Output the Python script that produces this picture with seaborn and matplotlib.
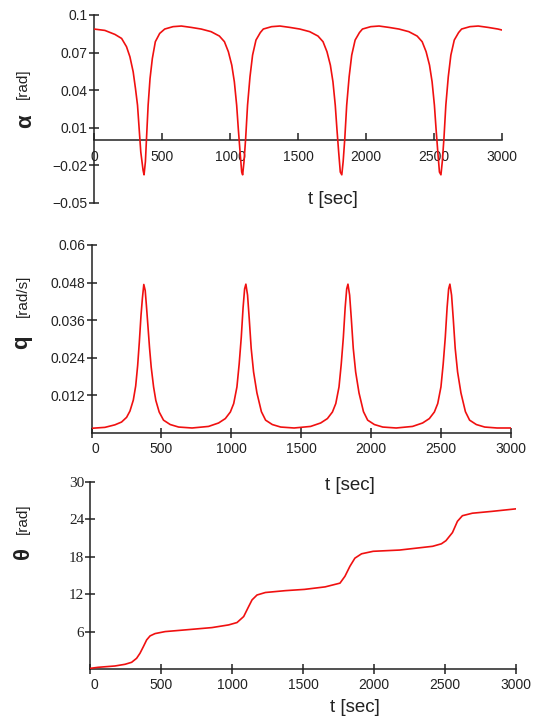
import matplotlib
matplotlib.use("Agg")
import matplotlib.pyplot as plt
import seaborn as sns

# alpha [rad] vs t [sec]
alpha_t = [0, 80, 154, 203, 239, 264, 288, 305, 320, 332, 344, 361, 368, 378, 386, 398, 412, 429, 451, 483,
           520, 581, 642, 715, 788, 861, 922, 959, 988, 1013, 1032, 1049, 1061, 1074, 1086, 1093, 1103, 1115, 1129, 1147,
           1166, 1191, 1223, 1245, 1306, 1367, 1440, 1513, 1586, 1647, 1684, 1713, 1738, 1757, 1774, 1786, 1799, 1811, 1822, 1832,
           1844, 1858, 1876, 1895, 1920, 1952, 1974, 2035, 2096, 2169, 2242, 2315, 2376, 2413, 2442, 2467, 2486, 2503, 2515, 2528,
           2540, 2551, 2561, 2573, 2587, 2605, 2624, 2649, 2681, 2703, 2764, 2825, 2898, 2970, 3000]
alpha = [0.0888, 0.0877, 0.0845, 0.0813, 0.0747, 0.0667, 0.0547, 0.0413, 0.0280, 0.0093, -0.0093, -0.0240, -0.0275, -0.0170, 0.0013, 0.0280, 0.0493, 0.0653, 0.0787, 0.0853,
         0.0888, 0.0907, 0.0912, 0.0901, 0.0888, 0.0867, 0.0832, 0.0787, 0.0707, 0.0600, 0.0467, 0.0280, 0.0093, -0.0093, -0.0253, -0.0275, -0.0170, 0.0013, 0.0280, 0.0507,
         0.0680, 0.0800, 0.0860, 0.0888, 0.0907, 0.0912, 0.0901, 0.0888, 0.0867, 0.0832, 0.0787, 0.0707, 0.0600, 0.0467, 0.0280, 0.0093, -0.0093, -0.0253, -0.0275, -0.0170,
         0.0013, 0.0280, 0.0507, 0.0680, 0.0800, 0.0860, 0.0888, 0.0907, 0.0912, 0.0901, 0.0888, 0.0867, 0.0832, 0.0787, 0.0707, 0.0600, 0.0467, 0.0280, 0.0093, -0.0093,
         -0.0253, -0.0275, -0.0170, 0.0013, 0.0280, 0.0507, 0.0680, 0.0800, 0.0860, 0.0888, 0.0907, 0.0912, 0.0901, 0.0888, 0.0880]

# q [rad/s] vs t [sec]
q_t = [0, 96, 167, 215, 251, 275, 299, 316, 330, 342, 354, 364, 374, 384, 393, 403, 415, 427, 444, 460,
       484, 515, 563, 623, 719, 837, 909, 957, 993, 1017, 1040, 1056, 1071, 1084, 1095, 1104, 1116, 1128, 1142, 1159,
       1183, 1215, 1245, 1293, 1353, 1449, 1567, 1639, 1687, 1723, 1747, 1770, 1786, 1801, 1814, 1825, 1834, 1846, 1858, 1872,
       1889, 1913, 1945, 1975, 2023, 2083, 2179, 2296, 2368, 2416, 2452, 2476, 2499, 2515, 2530, 2543, 2554, 2563, 2575, 2587,
       2601, 2618, 2642, 2674, 2704, 2752, 2812, 2900, 3000]
q = [0.0015, 0.0018, 0.0026, 0.0035, 0.0050, 0.0070, 0.0105, 0.0150, 0.0215, 0.0290, 0.0375, 0.0430, 0.0474, 0.0455, 0.0405, 0.0345, 0.0272, 0.0210, 0.0147, 0.0104,
     0.0067, 0.0041, 0.0027, 0.0019, 0.0016, 0.0021, 0.0032, 0.0046, 0.0067, 0.0094, 0.0147, 0.0220, 0.0305, 0.0400, 0.0460, 0.0475, 0.0440, 0.0365, 0.0270, 0.0195,
     0.0128, 0.0068, 0.0041, 0.0027, 0.0019, 0.0016, 0.0021, 0.0032, 0.0046, 0.0067, 0.0094, 0.0147, 0.0220, 0.0305, 0.0400, 0.0460, 0.0475, 0.0440, 0.0365, 0.0270,
     0.0195, 0.0128, 0.0068, 0.0041, 0.0027, 0.0019, 0.0016, 0.0021, 0.0032, 0.0046, 0.0067, 0.0094, 0.0147, 0.0220, 0.0305, 0.0400, 0.0460, 0.0475, 0.0440, 0.0365,
     0.0270, 0.0195, 0.0128, 0.0068, 0.0041, 0.0027, 0.0019, 0.0016, 0.0016]

# theta [rad] vs t [sec]
theta_t = [0, 54, 172, 243, 290, 325, 349, 373, 396, 420, 455, 526, 667, 856, 974, 1033, 1080, 1115, 1139, 1174,
           1233, 1375, 1509, 1654, 1759, 1794, 1829, 1864, 1911, 1993, 2179, 2412, 2474, 2506, 2552, 2587, 2622, 2692, 2832, 3000]
theta = [0.16, 0.32, 0.53, 0.80, 1.12, 1.76, 2.57, 3.64, 4.71, 5.35, 5.72, 6.04, 6.31, 6.68, 7.11, 7.49, 8.45, 10.05, 11.12, 11.9,
         12.3, 12.6, 12.8, 13.2, 13.8, 14.9, 16.5, 17.8, 18.5, 18.9, 19.1, 19.7, 20.1, 20.6, 21.9, 23.7, 24.6, 25.0, 25.3, 25.7]

alpha_ticks = [-0.05, -0.02, 0.01, 0.04, 0.07, 0.1]
alpha_labels = ["\u22120.05", "\u22120.02", "0.01", "0.04", "0.07", "0.1"]
q_ticks = [0.012, 0.024, 0.036, 0.048, 0.06]
q_labels = ["0.012", "0.024", "0.036", "0.048", "0.06"]
theta_ticks = [6, 12, 18, 24, 30]
theta_labels = ["6", "12", "18", "24", "30"]
t_ticks = [0, 500, 1000, 1500, 2000, 2500, 3000]
t_labels = ["0", "500", "1000", "1500", "2000", "2500", "3000"]

sns.set_style("white")
plt.rcParams['font.family'] = ['Liberation Sans', 'DejaVu Sans']

W, H = 538, 723
fig = plt.figure(figsize=(W / 100, H / 100), dpi=100)

def box(x0, x1, y0, y1):
    return [x0 / W, 1 - y1 / H, (x1 - x0) / W, (y1 - y0) / H]

ax1 = fig.add_axes(box(94, 502, 15, 203))
ax2 = fig.add_axes(box(91.5, 511, 245, 433))
ax3 = fig.add_axes(box(90.5, 516, 482, 669.3))

red = "#f01010"
sns.lineplot(x=alpha_t, y=alpha, ax=ax1, color=red, linewidth=1.2, zorder=3)
sns.lineplot(x=q_t, y=q, ax=ax2, color=red, linewidth=1.2, zorder=3)
sns.lineplot(x=theta_t, y=theta, ax=ax3, color=red, linewidth=1.2, zorder=3)

ax1.set_ylim(-0.05, 0.1)
ax2.set_ylim(0, 0.06)
ax3.set_ylim(0, 30)

for ax, yt, yl in [(ax1, alpha_ticks, alpha_labels), (ax2, q_ticks, q_labels), (ax3, theta_ticks, theta_labels)]:
    ax.set_xlim(0, 3000)
    ax.set_xticks(t_ticks)
    ax.set_xticklabels(t_labels)
    ax.set_yticks(yt)
    ax.set_yticklabels(yl)
    ax.set_xlabel("")
    ax.set_ylabel("")
    ax.spines['top'].set_visible(False)
    ax.spines['right'].set_visible(False)
    for s in ['left', 'bottom']:
        ax.spines[s].set_color("#222222")
        ax.spines[s].set_linewidth(1.1)
    ax.tick_params(axis='y', direction='inout', length=7, width=1.1, color="#222222",
                   labelsize=10, pad=1, left=True, labelcolor="#222222")
    ax.tick_params(axis='x', direction='inout', length=7, width=1.1, color="#222222",
                   labelsize=10, pad=3, bottom=True, labelcolor="#222222")
    ax.get_xticklabels()[0].set_horizontalalignment('left')
    ax.set_facecolor('white')

# alpha panel: x axis runs along zero
ax1.spines['bottom'].set_position(('data', 0))
ax1.tick_params(axis='x', direction='in', length=5, pad=7)

for lab in ax3.get_yticklabels():
    lab.set_family(['Liberation Serif', 'DejaVu Serif'])
    lab.set_fontsize(11)

# y labels: bold symbol plus unit
sym_kw = dict(rotation=90, ha='center', va='center', fontsize=16, fontweight='bold', color="#222222")
unit_kw = dict(rotation=90, ha='center', va='center', fontsize=11, color="#222222")
fig.text(26 / W, 1 - 121 / H, "\u03b1", **sym_kw)
fig.text(23 / W, 1 - 84 / H, "[rad]", **unit_kw)
fig.text(22 / W, 1 - 342 / H, "q", **sym_kw)
fig.text(23 / W, 1 - 296 / H, "[rad/s]", **unit_kw)
fig.text(24 / W, 1 - 553 / H, "\u03b8", **sym_kw)
fig.text(23 / W, 1 - 519 / H, "[rad]", **unit_kw)

# x labels
xl_kw = dict(ha='center', va='center', fontsize=13.5, color="#222222")
fig.text(333 / W, 1 - 200 / H, "t [sec]", **xl_kw)
fig.text(350 / W, 1 - 485 / H, "t [sec]", **xl_kw)
fig.text(355 / W, 1 - 708 / H, "t [sec]", **xl_kw)

fig.savefig("out.png", dpi=100, facecolor='white')
